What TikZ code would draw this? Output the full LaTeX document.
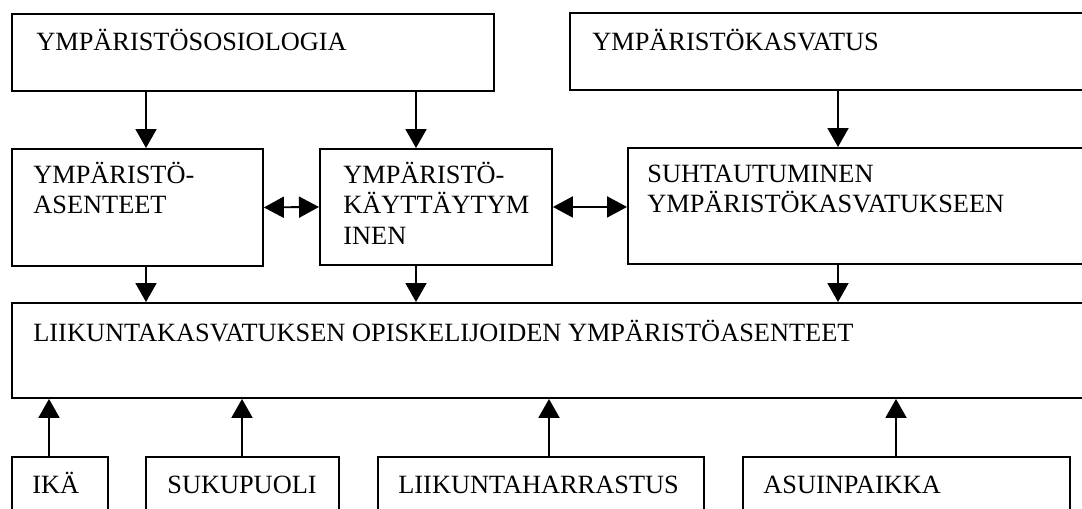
\documentclass[tikz,border=0pt]{standalone}
\usepackage{fontspec}
\setmainfont{Liberation Serif}
\usetikzlibrary{arrows.meta,calc}

\begin{document}
\begin{tikzpicture}[x=0.02cm, y=-0.02cm,
  box/.style={draw, line width=1.1pt, anchor=north west, inner sep=0pt},
  txt/.style={anchor=base west, inner sep=0pt, align=left, font=\fontsize{15}{17.3}\selectfont},
  arr/.style={line width=1.1pt, -{Triangle[width=0.42cm,length=0.38cm]}},
  darr/.style={line width=1.1pt, {Triangle[width=0.42cm,length=0.4cm]}-{Triangle[width=0.42cm,length=0.4cm]}}]

\clip (0,0) rectangle (1082,508);

% Top row
\node[box, minimum width=9.64cm, minimum height=1.54cm] (sosio) at (11,13) {};
\node[box, minimum width=10.62cm, minimum height=1.54cm] (kasv) at (569,12) {};
\node[txt] (sosio-t) at (36,50) {YMPÄRISTÖSOSIOLOGIA};
\node[txt] (kasv-t) at (592,50) {YMPÄRISTÖKASVATUS};

% Middle row (base = last line)
\node[box, minimum width=5.02cm, minimum height=2.34cm] (asent) at (11,148) {};
\node[box, minimum width=4.64cm, minimum height=2.32cm] (kayt) at (319,148) {};
\node[box, minimum width=9.46cm, minimum height=2.32cm] (suht) at (627,147) {};
\node[txt] (asent-t) at (33,213.5) {YMPÄRISTÖ-\\ASENTEET};
\node[txt] (kayt-t) at (343,244) {YMPÄRISTÖ-\\KÄYTTÄYTYM\\INEN};
\node[txt] (suht-t) at (647,212.5) {SUHTAUTUMINEN\\YMPÄRISTÖKASVATUKSEEN};

% Main box
\node[box, minimum width=21.8cm, minimum height=1.9cm] (main) at (11,302) {};
\node[txt] (main-t) at (33,341) {LIIKUNTAKASVATUKSEN OPISKELIJOIDEN YMPÄRISTÖASENTEET};

% Bottom row
\node[box, minimum width=1.92cm, minimum height=1.6cm] (ika) at (11,456) {};
\node[box, minimum width=3.86cm, minimum height=1.6cm] (suku) at (145,456) {};
\node[box, minimum width=6.52cm, minimum height=1.6cm] (harr) at (377,456) {};
\node[box, minimum width=6.54cm, minimum height=1.6cm] (asuin) at (742,456) {};
\node[txt] (ika-t) at (32,493) {IKÄ};
\node[txt] (suku-t) at (167,493) {SUKUPUOLI};
\node[txt] (harr-t) at (398,493) {LIIKUNTAHARRASTUS};
\node[txt] (asuin-t) at (763,493) {ASUINPAIKKA};

% Arrows down
\draw[arr] ($(sosio.south west)+(135,0)$) -- ($(asent.north west)+(135,0)$);
\draw[arr] ($(sosio.south west)+(405,0)$) -- ($(kayt.north west)+(97,0)$);
\draw[arr] ($(kasv.south west)+(269,0)$) -- ($(suht.north west)+(211,0)$);
\draw[arr] ($(asent.south west)+(135,0)$) -- ($(main.north west)+(135,0)$);
\draw[arr] ($(kayt.south west)+(97,0)$) -- ($(main.north west)+(405,0)$);
\draw[arr] ($(suht.south west)+(211,0)$) -- ($(main.north west)+(827,0)$);

% Two-way arrows
\draw[darr] (asent.east) -- (kayt.west);
\draw[darr] (kayt.east) -- (suht.west |- kayt.east);

% Arrows up
\draw[arr] ($(ika.north west)+(38,0)$) -- ($(main.south west)+(38,0)$);
\draw[arr] ($(suku.north west)+(97,0)$) -- ($(main.south west)+(231,0)$);
\draw[arr] ($(harr.north west)+(172,0)$) -- ($(main.south west)+(538,0)$);
\draw[arr] ($(asuin.north west)+(154,0)$) -- ($(main.south west)+(885,0)$);

\end{tikzpicture}
\end{document}
